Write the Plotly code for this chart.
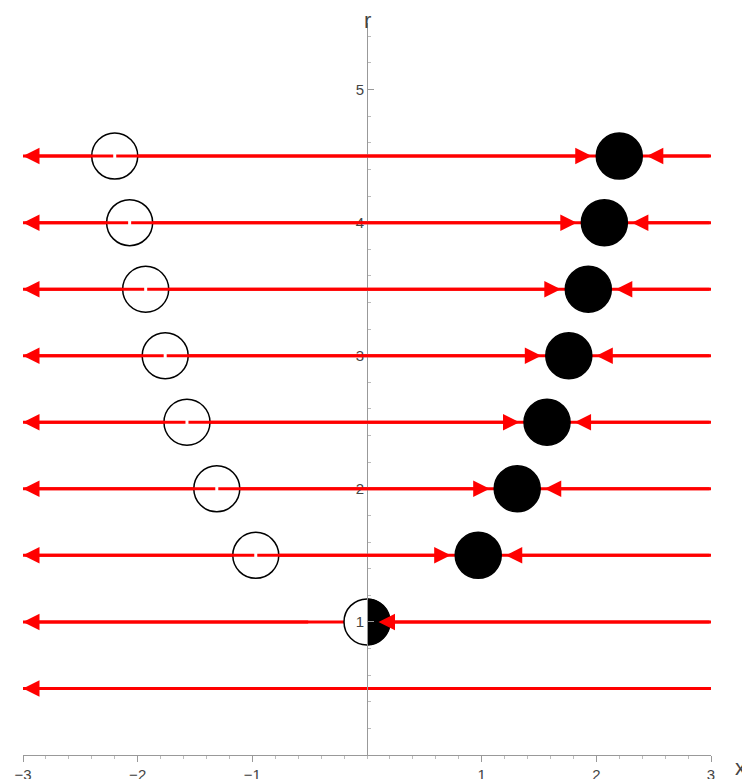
import numpy as np
import plotly.graph_objects as go

r_levels = [0.5, 1.0, 1.5, 2.0, 2.5, 3.0, 3.5, 4.0, 4.5]
stable_x = [None, 0.0, 0.97, 1.31, 1.57, 1.76, 1.93, 2.07, 2.2]
unstable_x = [None, 0.0, -0.97, -1.31, -1.57, -1.76, -1.93, -2.07, -2.2]
x_ticks = [-3, -2, -1, 1, 2, 3]
r_ticks = [1, 2, 3, 4, 5]

red = "rgb(255,0,0)"
gap = 0.24

fig = go.Figure()

anns = []


def arrow(x_head, x_tail, r):
    anns.append(dict(x=x_head, y=r, ax=x_tail, ay=r, xref="x", yref="y",
                     axref="x", ayref="y", showarrow=True, arrowhead=2,
                     arrowsize=1.1, arrowwidth=3, arrowcolor=red, text=""))


for r, xs, xu in zip(r_levels, stable_x, unstable_x):
    fig.add_trace(go.Scatter(x=[-3, 3], y=[r, r], mode="lines",
                             line=dict(color=red, width=3),
                             showlegend=False, hoverinfo="skip"))
    if xs is None:
        arrow(-3, -2.5, r)
        continue
    if xs == 0:
        arrow(-3, -0.5, r)
        arrow(0.1, 3, r)
        continue
    arrow(-3, xu, r)
    arrow(xs - gap, xu, r)
    arrow(xs + gap, 3, r)

pos = [(x, r) for x, r in zip(stable_x, r_levels) if x]
neg = [(x, r) for x, r in zip(unstable_x, r_levels) if x is not None]

fig.add_trace(go.Scatter(x=[p[0] for p in neg], y=[p[1] for p in neg],
                         mode="markers", showlegend=False,
                         marker=dict(size=46, color="white",
                                     line=dict(color="black", width=1.5))))
fig.add_trace(go.Scatter(x=[p[0] for p in pos], y=[p[1] for p in pos],
                         mode="markers", showlegend=False,
                         marker=dict(size=46, color="black",
                                     line=dict(color="black", width=1.5))))

# right half filled at the bifurcation point (radius ~23 px)
t = np.linspace(-np.pi / 2, np.pi / 2, 40)
fig.add_trace(go.Scatter(x=0 + 23 / 114.7 * np.cos(t),
                         y=1 + 23 / 133.0 * np.sin(t),
                         mode="lines", fill="toself", fillcolor="black",
                         line=dict(color="black", width=1),
                         showlegend=False, hoverinfo="skip"))

anns.append(dict(x=1, y=0, xref="paper", yref="y", text="x", showarrow=False,
                 xanchor="left", yanchor="top", xshift=22, yshift=2,
                 font=dict(size=22, color="#444")))
anns.append(dict(x=0, y=1, xref="x", yref="paper", text="r", showarrow=False,
                 xanchor="center", yanchor="bottom", yshift=-12,
                 font=dict(size=22, color="#444")))

fig.update_layout(
    width=750, height=779, plot_bgcolor="white", paper_bgcolor="white",
    margin=dict(l=15, r=47, t=15, b=32, autoexpand=False),
    font=dict(family="Liberation Sans", size=15, color="#444"),
    annotations=anns,
    xaxis=dict(range=[-3, 3], tickvals=x_ticks, showgrid=False,
               zeroline=False, showline=True, linecolor="#999",
               ticks="outside", ticklen=6, tickcolor="#999",
               automargin=False,
               minor=dict(ticks="outside", ticklen=3, dtick=0.2,
                          tickcolor="#bbb"),
               anchor="y", position=0),
    yaxis=dict(range=[0, 5.5], tickvals=r_ticks, showgrid=False,
               zeroline=False, showline=True, linecolor="#999",
               ticks="inside", ticklen=6, tickcolor="#999",
               automargin=False,
               minor=dict(ticks="inside", ticklen=3, dtick=0.2,
                          tickcolor="#bbb"),
               anchor="free", position=0.5),
)

fig.write_html("out.html")
